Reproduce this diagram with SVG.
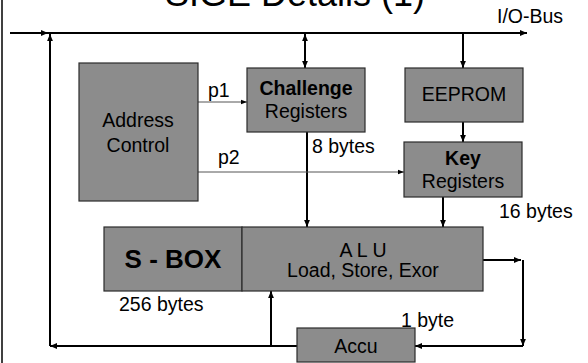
<svg xmlns="http://www.w3.org/2000/svg" width="588" height="363" viewBox="0 0 588 363">
  <style>
    text { font-family: "Liberation Sans", Arial, sans-serif; fill: #000; }
    .box { fill: #8c8c8c; stroke: #2b2b2b; stroke-width: 1.2; }
    .lbl { font-size: 19.5px; }
    .mid { text-anchor: middle; }
    .b { font-weight: bold; }
    .wire { fill: none; stroke: #000; stroke-width: 2; }
    .thin { fill: none; stroke: #555; stroke-width: 1; }
  </style>
  <defs>
    <marker id="ah" viewBox="0 0 7 7" refX="7" refY="3.5" markerWidth="7" markerHeight="7" markerUnits="userSpaceOnUse" orient="auto-start-reverse">
      <path d="M0,0.6 L7,3.5 L0,6.4 z" fill="#000"/>
    </marker>
    <marker id="ahs" viewBox="0 0 6 6" refX="6" refY="3" markerWidth="6" markerHeight="6" markerUnits="userSpaceOnUse" orient="auto">
      <path d="M0,0.8 L6,3 L0,5.2 z" fill="#000"/>
    </marker>
  </defs>

  <!-- frame edge and title -->
  <line x1="2" y1="0" x2="2" y2="363" stroke="#000" stroke-width="1.5"/>
  <text x="295" y="6" class="mid" font-size="36">SIGE Details (1)</text>
  <text x="497" y="23" class="lbl">I/O-Bus</text>

  <!-- connectors -->
  <g id="connectors">
    <path class="wire" d="M10,33 H48" marker-end="url(#ah)"/>
    <path class="wire" d="M48,33 H527" marker-end="url(#ah)"/>
    <path class="wire" d="M305,34 V68" marker-start="url(#ah)" marker-end="url(#ah)"/>
    <path class="wire" d="M463,33 V68" marker-end="url(#ah)"/>
    <path class="wire" d="M463,122 V142" marker-end="url(#ah)"/>
    <path class="wire" d="M307,132 V227" marker-end="url(#ah)"/>
    <path class="wire" d="M443,197 V227" marker-end="url(#ah)"/>
    <path class="thin" d="M198,102 H247" marker-end="url(#ahs)"/>
    <path class="thin" d="M198,172 H404" marker-end="url(#ahs)"/>
    <path class="wire" d="M483,260 H521" marker-end="url(#ah)"/>
    <path class="wire" d="M523,260 V346" marker-end="url(#ah)"/>
    <path class="wire" d="M523,346 H415" marker-end="url(#ah)"/>
    <path class="wire" d="M297,346 H50" marker-end="url(#ah)"/>
    <path class="wire" d="M50,346 V34" marker-end="url(#ah)"/>
    <path class="wire" d="M271,346 V291" marker-end="url(#ah)"/>
    <text x="208" y="97" class="lbl">p1</text>
    <text x="218" y="164" class="lbl">p2</text>
    <text x="312" y="153" class="lbl">8 bytes</text>
    <text x="499" y="218" class="lbl">16 bytes</text>
    <text x="119" y="311" class="lbl">256 bytes</text>
    <text x="401" y="327" class="lbl">1 byte</text>
  </g>

  <g id="address-control">
    <rect class="box" x="79" y="63" width="119" height="138"/>
    <text x="138" y="127" class="lbl mid">Address</text>
    <text x="138" y="152" class="lbl mid">Control</text>
  </g>

  <g id="challenge-registers">
    <rect class="box" x="247" y="68" width="118" height="64"/>
    <text x="306" y="95" class="lbl mid b">Challenge</text>
    <text x="306" y="118" class="lbl mid">Registers</text>
  </g>

  <g id="eeprom">
    <rect class="box" x="405" y="68" width="118" height="54"/>
    <text x="464" y="101" class="lbl mid">EEPROM</text>
  </g>

  <g id="key-registers">
    <rect class="box" x="404" y="142" width="118" height="55"/>
    <text x="463" y="165" class="lbl mid b">Key</text>
    <text x="463" y="188" class="lbl mid">Registers</text>
  </g>

  <g id="sbox">
    <rect class="box" x="104" y="227" width="138" height="64"/>
    <text x="173" y="268" class="mid b" font-size="26">S - BOX</text>
  </g>

  <g id="alu">
    <rect class="box" x="242" y="227" width="241" height="64"/>
    <text x="363" y="257" class="lbl mid">A L U</text>
    <text x="363" y="277" class="lbl mid">Load, Store, Exor</text>
  </g>

  <g id="accu">
    <rect class="box" x="297" y="328" width="118" height="34"/>
    <text x="356" y="353" class="lbl mid">Accu</text>
  </g>
</svg>
